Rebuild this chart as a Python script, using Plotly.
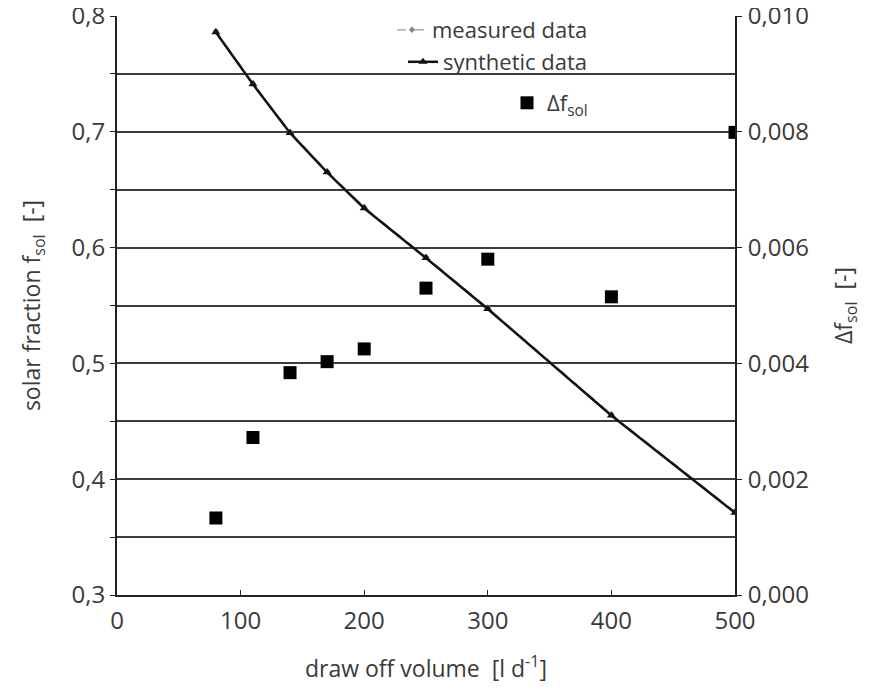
import plotly.graph_objects as go

draw_off = [80, 110, 140, 170, 200, 250, 300, 400, 500]
f_measured = [0.787, 0.742, 0.700, 0.666, 0.635, 0.592, 0.548, 0.456, 0.372]
f_synthetic = [0.786, 0.741, 0.699, 0.665, 0.634, 0.591, 0.547, 0.455, 0.371]
delta_f = [0.00133, 0.00272, 0.00384, 0.00403, 0.00425, 0.00530, 0.00580, 0.00515, 0.00799]

FONT = "Open Sans"
TXT = "#3a3a3a"
GRID = "#3c3c3c"
TS = 24

fig = go.Figure()
fig.add_trace(go.Scatter(
    x=draw_off, y=f_measured, mode="lines+markers", name="measured data",
    line=dict(color="#9a9a9a", width=1.2, dash="dash"),
    marker=dict(symbol="diamond", size=5, color="#888888"),
    legend="legend"))
fig.add_trace(go.Scatter(
    x=draw_off, y=f_synthetic, mode="lines+markers", name="synthetic data",
    line=dict(color="#111111", width=2.5),
    marker=dict(symbol="triangle-up", size=8, color="#111111"),
    legend="legend2"))
fig.add_trace(go.Scatter(
    x=draw_off, y=delta_f, mode="markers", name="Δf<sub>sol</sub>",
    marker=dict(symbol="square", size=13, color="#000000"),
    yaxis="y2", legend="legend3"))

# figure px (page body adds an 8px offset)
W, H = 867, 687
L, R, T, B = 109, 727, 8, 587

def py(p):
    return (B - p) / (B - T)

def px(p):
    return (p - L) / (R - L)

legend_common = dict(bgcolor="rgba(0,0,0,0)", font=dict(family=FONT, size=22, color=TXT),
                     xanchor="right", yanchor="middle", itemwidth=30)

fig.update_layout(
    width=W, height=H,
    margin=dict(l=L, r=W - R, t=T, b=H - B, autoexpand=False),
    paper_bgcolor="white", plot_bgcolor="white",
    separators=", ",
    showlegend=True,
    font=dict(family=FONT, color=TXT),
    legend=dict(x=px(585), y=py(22), **legend_common),
    legend2=dict(x=px(585), y=py(54), **legend_common),
    legend3=dict(x=px(585), y=py(95), **legend_common),
    xaxis=dict(
        range=[0, 500], dtick=100, tick0=0, showgrid=False, zeroline=False,
        showline=True, linecolor="#222222", linewidth=2, automargin=False,
        ticks="inside", ticklen=5, tickcolor="#222222", ticklabelstandoff=3,
        ticklabeloverflow="allow",
        tickfont=dict(family=FONT, size=TS, color=TXT),
        title=dict(text="draw off volume  [l d<sup>-1</sup>]",
                   font=dict(family=FONT, size=TS - 1, color=TXT), standoff=26)),
    yaxis=dict(
        range=[0.3, 0.8], dtick=0.1, tick0=0.3, tickformat=".1f",
        showgrid=True, gridcolor=GRID, gridwidth=1.8, zeroline=False,
        showline=True, linecolor="#222222", linewidth=2, automargin=False,
        ticks="outside", ticklen=5, tickcolor="#222222",
        ticklabeloverflow="allow",
        minor=dict(dtick=0.05, showgrid=True, gridcolor=GRID, gridwidth=1.8,
                   ticks="outside", ticklen=5, tickcolor="#222222"),
        tickfont=dict(family=FONT, size=TS, color=TXT),
        title=dict(text="solar fraction f<sub>sol</sub>  [-]",
                   font=dict(family=FONT, size=TS - 1, color=TXT), standoff=24)),
    yaxis2=dict(
        overlaying="y", side="right", range=[0, 0.010], dtick=0.002, tick0=0,
        tickformat=".3f", showgrid=False, zeroline=False, automargin=False,
        showline=True, linecolor="#222222", linewidth=2,
        ticks="outside", ticklen=5, tickcolor="#222222", ticklabelstandoff=1,
        ticklabeloverflow="allow",
        tickfont=dict(family=FONT, size=TS, color=TXT),
        title=dict(text="Δf<sub>sol</sub>  [-]",
                   font=dict(family=FONT, size=TS - 1, color=TXT), standoff=28)),
)

fig.write_html("out.html")
